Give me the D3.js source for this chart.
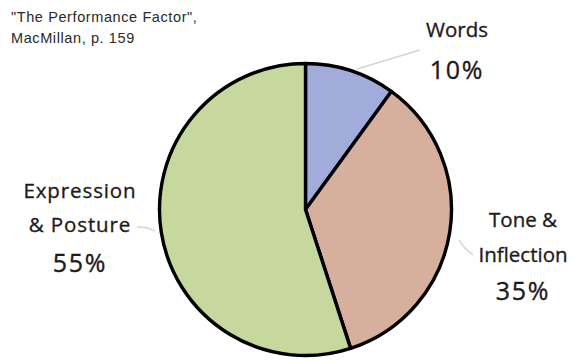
<!DOCTYPE html>
<html>
<head>
<meta charset="utf-8">
<script src="https://cdn.jsdelivr.net/npm/d3@7/dist/d3.min.js"></script>
<style>
  html, body { margin: 0; padding: 0; background: #fff; }
  svg { display: block; }
</style>
</head>
<body>
<svg id="chart" width="574" height="360"></svg>
<script>
// Share of communication impact
const categories = ["Words", "Tone & Inflection", "Expression & Posture"];
const values = [10, 35, 55];
const colors = ["#a2acdb", "#d6af9d", "#c6d89d"];
// Label lines for each slice (multi-line)
const labelLines = [["Words", "10%"], ["Tone &", "Inflection", "35%"], ["Expression", "& Posture", "55%"]];
const sourceLines = ["\"The Performance Factor\",", "MacMillan, p. 159"];

const svg = d3.select("#chart");
const cx = 305.5, cy = 209.5, r = 146;

const pie = d3.pie().sort(null).value(d => d)(values);
const arc = d3.arc().innerRadius(0).outerRadius(r);

const g = svg.append("g").attr("transform", `translate(${cx},${cy})`);

// Leader lines (light gray)
const leaders = [
  [[357 - cx, 69 - cy], [420 - cx, 50 - cy]],
  [[459 - cx, 240 - cy], [464 - cx, 248 - cy], [473 - cx, 255 - cy]],
  [[155 - cx, 231 - cy], [146 - cx, 227 - cy], [137 - cx, 227 - cy]]
];
g.selectAll("path.leader").data(leaders).join("path")
  .attr("class", "leader")
  .attr("d", d => d3.line().curve(d3.curveBasis)(d))
  .attr("fill", "none")
  .attr("stroke", "#d4d4d4")
  .attr("stroke-width", 1.5);

g.selectAll("path.slice").data(pie).join("path")
  .attr("class", "slice")
  .attr("d", arc)
  .attr("fill", (d, i) => colors[i])
  .attr("stroke", "#000")
  .attr("stroke-width", 3.4)
  .attr("stroke-linejoin", "round");

// Slice labels
const labelPos = [
  { x: 457, y: [37, 79] },
  { x: 523, y: [227, 262, 300] },
  { x: 80, y: [198, 232, 272] }
];
const labelSpacing = [0, 0, 0.9];
labelLines.forEach((lines, i) => {
  const t = svg.append("text")
    .attr("text-anchor", "middle")
    .attr("font-family", "'Open Sans', 'Noto Sans', sans-serif")
    .attr("fill", "#1e1b1c")
    .attr("stroke", "#1e1b1c")
    .attr("stroke-width", 0.35);
  lines.forEach((line, j) => {
    const isPct = j === lines.length - 1;
    t.append("tspan")
      .attr("x", labelPos[i].x)
      .attr("y", labelPos[i].y[j])
      .attr("font-size", isPct ? 25 : 20.5)
      .attr("letter-spacing", isPct ? 1.8 : labelSpacing[i])
      .text(line);
  });
});

// Source note
const src = svg.append("text")
  .attr("font-family", "'Liberation Sans', Arial, sans-serif")
  .attr("font-size", 14.5)
  .attr("letter-spacing", 0.6)
  .attr("fill", "#2a2a2a");
sourceLines.forEach((line, j) => {
  src.append("tspan").attr("x", 11).attr("y", 22 + j * 21).text(line);
});
</script>
</body>
</html>
